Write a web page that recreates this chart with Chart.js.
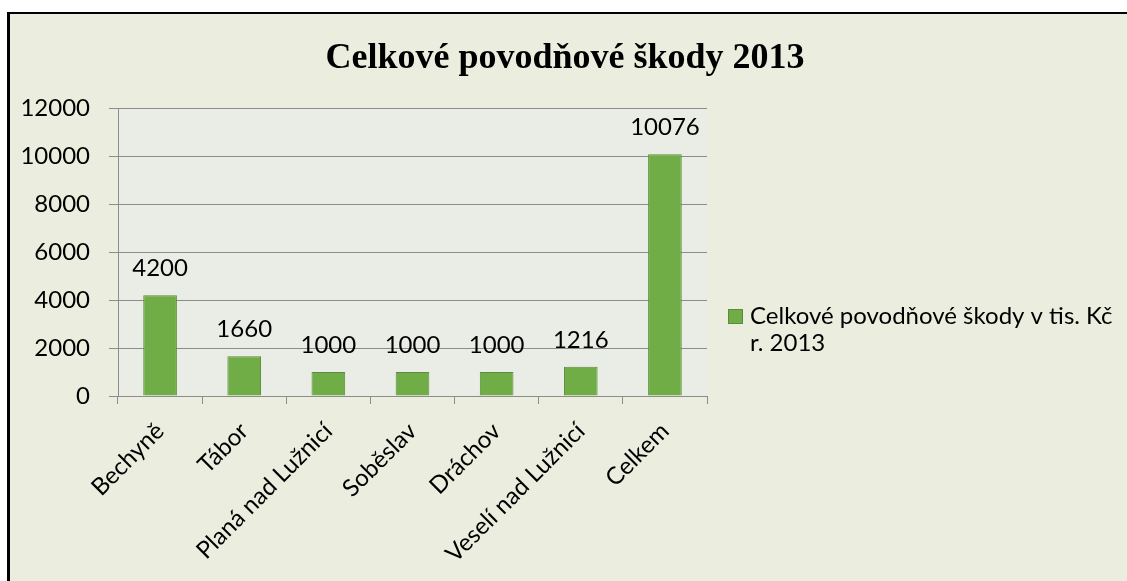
<!DOCTYPE html>
<html>
<head>
<meta charset="utf-8">
<script src="https://cdn.jsdelivr.net/npm/chart.js@4"></script>
<style>
  html, body { margin: 0; padding: 0; background: #ffffff; }
  body { width: 1127px; height: 581px; overflow: hidden; position: relative; }
  #frame {
    position: absolute; left: 7px; top: 12px;
    width: 1120px; height: 569px;
    border-left: 3px solid #000; border-top: 2px solid #000;
    background: #ebeedf;
  }
  #wrap { position: absolute; left: 0; top: 0; width: 1117px; height: 567px; }
</style>
</head>
<body>
<div id="frame"><div id="wrap"><canvas id="chart"></canvas></div></div>
<script>
// obce a škody v tis. Kč
const categories = ['Bechyně', 'Tábor', 'Planá nad Lužnicí', 'Soběslav', 'Dráchov', 'Veselí nad Lužnicí', 'Celkem'];
const damages = [4200, 1660, 1000, 1000, 1000, 1216, 10076];
const yTicks = [0, 2000, 4000, 6000, 8000, 10000, 12000];
const chartTitle = 'Celkové povodňové škody 2013';
const seriesName = 'Celkové povodňové škody v tis. Kč';
const seriesNameLine2 = 'r. 2013';

const labelFont = '24px Lato';
const barFill = '#70ad47';
const barEdge = '#5b8c3a';

// pozadí plochy grafu
const plotBackground = {
    id: 'plotBackground',
    beforeDraw(chart) {
        const a = chart.chartArea;
        const ctx = chart.ctx;
        ctx.save();
        ctx.fillStyle = '#e9ede6';
        ctx.fillRect(a.left, a.top, a.right - a.left, a.bottom - a.top);
        ctx.restore();
    }
};

// nadpis, hodnoty nad sloupci a legenda
const extras = {
    id: 'extras',
    afterDraw(chart) {
        const ctx = chart.ctx;
        ctx.save();

        ctx.fillStyle = '#000';
        ctx.font = 'bold 36px "Liberation Serif"';
        ctx.textAlign = 'center';
        ctx.textBaseline = 'alphabetic';
        ctx.fillText(chartTitle, 555, 54);

        ctx.font = labelFont;
        const meta = chart.getDatasetMeta(0);
        meta.data.forEach((bar, i) => {
            ctx.fillText(String(damages[i]), bar.x, bar.y - 19);
        });

        ctx.fillStyle = barFill;
        ctx.fillRect(718, 295, 15, 15);
        ctx.strokeStyle = barEdge;
        ctx.lineWidth = 1;
        ctx.strokeRect(718.5, 295.5, 14, 14);

        ctx.fillStyle = '#000';
        ctx.textAlign = 'left';
        ctx.fillText(seriesName, 740, 310);
        ctx.fillText(seriesNameLine2, 740, 337);
        ctx.restore();
    }
};

new Chart(document.getElementById('chart'), {
    type: 'bar',
    data: {
        labels: categories,
        datasets: [{
            label: seriesName,
            data: damages,
            backgroundColor: barFill,
            borderColor: barEdge,
            borderWidth: 1,
            barPercentage: 0.4,
            categoryPercentage: 1.0
        }]
    },
    options: {
        responsive: true,
        maintainAspectRatio: false,
        animation: false,
        layout: { padding: { top: 94, right: 1117 - 697, left: 0, bottom: 0 } },
        plugins: {
            legend: { display: false },
            title: { display: false },
            tooltip: { enabled: false }
        },
        scales: {
            x: {
                offset: true,
                grid: {
                    offset: true,
                    drawOnChartArea: false,
                    drawTicks: true,
                    tickLength: 8,
                    color: '#8c8c8c'
                },
                border: { color: '#8c8c8c' },
                ticks: {
                    font: { family: 'Lato', size: 24 },
                    color: '#000',
                    minRotation: 45,
                    maxRotation: 45,
                    padding: 13,
                    autoSkip: false
                },
                afterFit(scale) { scale.height = 567 - 382; }
            },
            y: {
                min: 0,
                max: 12000,
                afterBuildTicks(scale) { scale.ticks = yTicks.map(v => ({ value: v })); },
                grid: { color: '#8c8c8c', tickLength: 9 },
                border: { color: '#8c8c8c' },
                ticks: {
                    font: { family: 'Lato', size: 24 },
                    color: '#000',
                    padding: 19,
                    callback: v => String(v)
                },
                afterFit(scale) { scale.width = 108; }
            }
        }
    },
    plugins: [plotBackground, extras]
});
</script>
</body>
</html>
